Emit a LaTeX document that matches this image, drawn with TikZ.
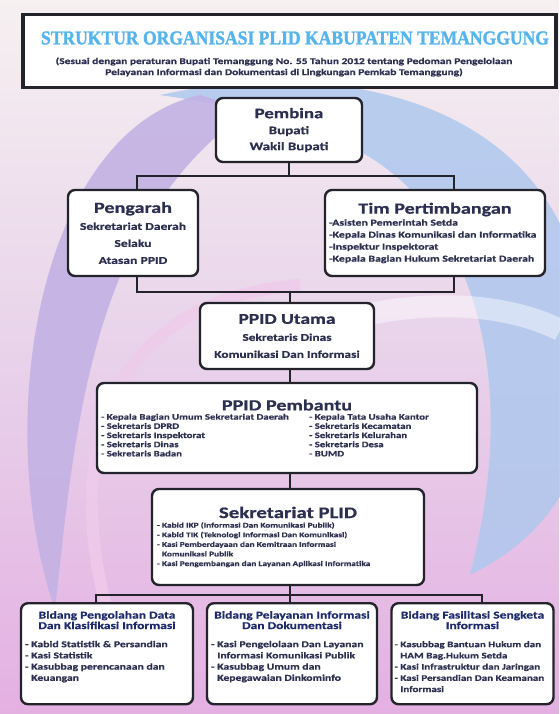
\documentclass[tikz,border=0pt]{standalone}
\usepackage{fontspec}
\usepackage{graphicx}
\setmainfont{Carlito}[FakeStretch=1.3, BoldFeatures={FakeBold=0.8}]
\newfontfamily\serifttl{Liberation Serif}[FakeBold=1.5]
\definecolor{bgtop}{HTML}{F6F0F1}
\definecolor{bgmid}{HTML}{E8D2EA}
\definecolor{bgbot}{HTML}{E4B0E2}
\definecolor{lav}{HTML}{C3B2E4}
\definecolor{blu}{HTML}{AFC8EE}
\definecolor{pinkstripe}{HTML}{EFCBEA}
\definecolor{boxcol}{HTML}{23232B}
\definecolor{txtcol}{HTML}{2C2F4F}
\definecolor{hdrblue}{HTML}{1E2B6B}
\definecolor{ttlblue}{HTML}{55B4EC}
\newcommand\setfs[2]{\fontsize{#1}{#2}\selectfont}
\begin{document}
\begin{tikzpicture}[x=1pt,y=1pt]
\tikzset{
  orgbox/.style={draw=boxcol, line width=2.4pt, rounded corners=7pt, fill=white, inner sep=2pt, text=txtcol},
  link/.style={draw=boxcol, line width=2.4pt},
}
% ---------- background ----------
\useasboundingbox (0,0) rectangle (559,-714);
\fill[top color=bgtop, bottom color=bgbot, middle color=bgmid] (0,0) rectangle (559,-714);
\fill[blu, opacity=.85] (160,-95) .. controls (320,-60) and (520,-90) .. (575,-260)
  -- (575,-470) .. controls (550,-520) and (520,-550) .. (470,-575)
  .. controls (505,-440) and (500,-300) .. (420,-200)
  .. controls (360,-130) and (260,-110) .. (160,-95) -- cycle;
\fill[lav, opacity=.9] (200,-95) .. controls (40,-130) and (-10,-420) .. (55,-610)
  .. controls (75,-430) and (90,-220) .. (250,-110) -- cycle;
\draw[pinkstripe, line width=12pt, opacity=.8] (110,-620) .. controls (60,-450) and (110,-300) .. (300,-285);
\draw[white, opacity=.45, line width=22pt] (300,-335) .. controls (400,-295) and (500,-300) .. (560,-330);

% ---------- title ----------
\node[draw=boxcol, line width=3.5pt, fill=white!97!bgtop, minimum width=533pt, minimum height=73pt, inner sep=0pt] (title) at (289.5,-51) {};
\node[text=ttlblue, inner sep=0pt] (ttl) at (295,-38) {\resizebox{508pt}{13pt}{\serifttl\bfseries STRUKTUR ORGANISASI PLID KABUPATEN TEMANGGUNG}};
\node[text=txtcol, inner sep=0pt, align=center, font=\setfs{8.8}{11}\bfseries] (sub) at (284,-67) {(Sesuai dengan peraturan Bupati Temanggung No. 55 Tahun 2012 tentang Pedoman Pengelolaan\\ Pelayanan Informasi dan Dokumentasi di Lingkungan Pemkab Temanggung)};

% ---------- boxes ----------
\node[orgbox, minimum width=146pt, minimum height=64pt] (pembina) at (289,-130)
 {\parbox{140pt}{\centering\setfs{14.5}{17}\bfseries Pembina\par\setfs{11.5}{16}Bupati\par Wakil Bupati\par}};

\node[orgbox, minimum width=130pt, minimum height=86pt] (pengarah) at (133,-233)
 {\parbox{124pt}{\centering\setfs{15.5}{20}\bfseries Pengarah\par\setfs{10.5}{17}Sekretariat Daerah\par Selaku\par Atasan PPID\par}};

\node[orgbox, minimum width=220pt, minimum height=86pt] (tim) at (435,-233)
 {\parbox{212pt}{\centering\setfs{15.5}{20}\bfseries Tim Pertimbangan\par\raggedright\setfs{9.1}{12}-Asisten Pemerintah Setda\par -Kepala Dinas Komunikasi dan Informatika\par -Inspektur Inspektorat\par -Kepala Bagian Hukum Sekretariat Daerah\par}};

\node[orgbox, minimum width=174pt, minimum height=66pt] (utama) at (287,-336)
 {\parbox{168pt}{\centering\setfs{15}{19}\bfseries PPID Utama\par\setfs{10.3}{17}Sekretaris Dinas\par Komunikasi Dan Informasi\par}};

\node[orgbox, minimum width=380pt, minimum height=90pt] (pembantu) at (287,-428)
 {\parbox{372pt}{\centering\setfs{15.5}{17}\bfseries PPID Pembantu\par\raggedright\setfs{8.3}{9.2}%
  \parbox[t]{205pt}{- Kepala Bagian Umum Sekretariat Daerah\par - Sekretaris DPRD\par - Sekretaris Inspektorat\par - Sekretaris Dinas\par - Sekretaris Badan}\hfill
  \parbox[t]{164pt}{- Kepala Tata Usaha Kantor\par - Sekretaris Kecamatan\par - Sekretaris Kelurahan\par - Sekretaris Desa\par - BUMD}\par}};

\node[orgbox, minimum width=272pt, minimum height=96pt] (sekre) at (288,-537)
 {\parbox{262pt}{\centering\setfs{16}{19}\bfseries Sekretariat PLID\par\raggedright\setfs{7.2}{9.6}%
  - Kabid IKP (Informasi Dan Komunikasi Publik)\par
  - Kabid TIK (Teknologi Informasi Dan Komunikasi)\par
  - Kasi Pemberdayaan dan Kemitraan Informasi\par
  \phantom{- }Komunikasi Publik\par
  - Kasi Pengembangan dan Layanan Aplikasi Informatika\par}};

\node[orgbox, minimum width=172pt, minimum height=101pt, anchor=north] (bid1) at (107,-602)
 {\parbox[t][93pt][t]{164pt}{\vspace{4pt}\centering\color{hdrblue}\setfs{10.4}{10.5}\bfseries Bidang Pengolahan Data\par Dan Klasifikasi Informasi\par\vspace{7pt}\raggedright\color{txtcol}\setfs{9}{11.2}%
  - Kabid Statistik \& Persandian\par - Kasi Statistik\par - Kasubbag perencanaan dan\par \phantom{- }Keuangan\par}};

\node[orgbox, minimum width=170pt, minimum height=101pt, anchor=north] (bid2) at (292,-602)
 {\parbox[t][93pt][t]{162pt}{\vspace{4pt}\centering\color{hdrblue}\setfs{10.4}{10.5}\bfseries Bidang Pelayanan Informasi\par Dan Dokumentasi\par\vspace{7pt}\raggedright\color{txtcol}\setfs{9}{11.2}%
  - Kasi Pengelolaan Dan Layanan\par \phantom{- }Informasi Komunikasi Publik\par - Kasubbag Umum dan\par \phantom{- }Kepegawaian Dinkominfo\par}};

\node[orgbox, minimum width=162pt, minimum height=101pt, anchor=north] (bid3) at (472.5,-602)
 {\parbox[t][93pt][t]{156pt}{\vspace{4pt}\centering\color{hdrblue}\setfs{10.4}{10.5}\bfseries Bidang Fasilitasi Sengketa\par Informasi\par\vspace{7pt}\raggedright\color{txtcol}\setfs{8.5}{11.2}%
  - Kasubbag Bantuan Hukum dan\par \phantom{- }HAM Bag.Hukum Setda\par - Kasi Infrastruktur dan Jaringan\par - Kasi Persandian Dan Keamanan\par \phantom{- }Informasi\par}};

% ---------- connectors ----------
\draw[link] (pembina.south) -- ++(0,-13) coordinate (j1);
\draw[link] (pengarah.north -| 137,0) |- (j1) -| (tim.north -| 454,0);
\draw[link] (pengarah.south -| 137,0) |- (290,-292) coordinate (j2) -| (tim.south -| 454,0);
\draw[link] (j2) -- (utama.north -| j2);
\draw[link] (utama.south -| j2) -- (pembantu.north -| j2);
\draw[link] (pembantu.south -| j2) -- (sekre.north -| j2);
\draw[link] (sekre.south -| j2) -- (290,-595) coordinate (j3);
\draw[link] (bid1.north -| 96,0) |- (j3) -| (bid3.north -| 482,0);
\draw[link] (j3) -- (bid2.north -| j3);
\end{tikzpicture}
\end{document}
